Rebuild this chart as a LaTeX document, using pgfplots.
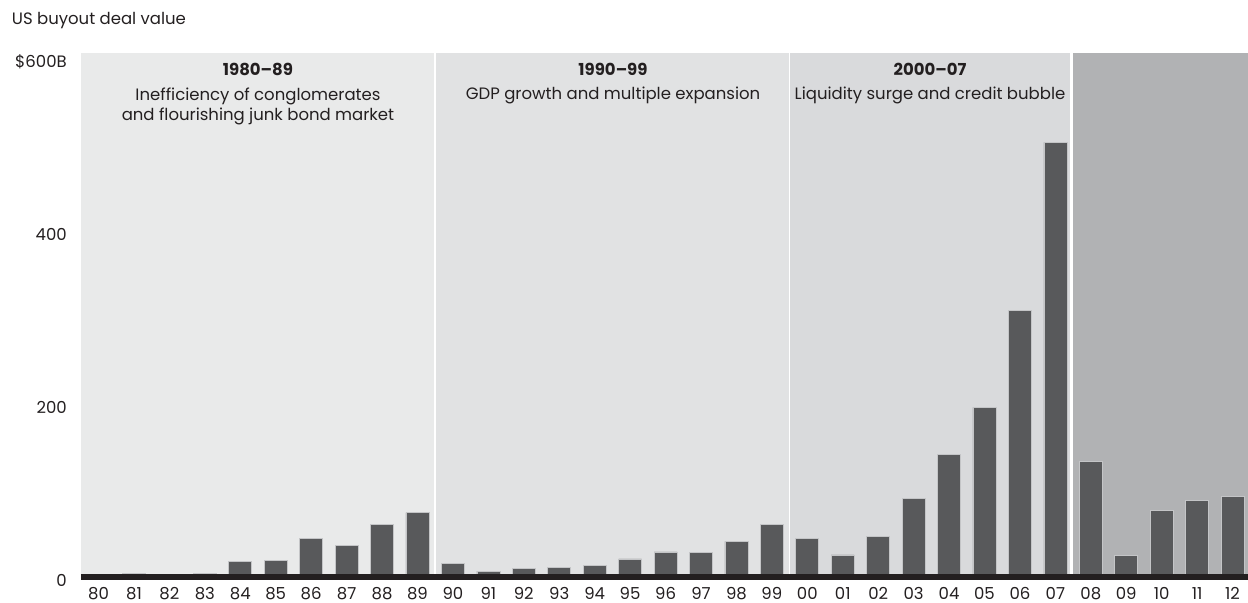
\documentclass[border=0pt]{standalone}
\usepackage{pgfplots}
\pgfplotsset{compat=1.18}
\usepackage{fontspec}
\setmainfont{Poppins}
\definecolor{rA}{HTML}{E9EAEA}
\definecolor{rB}{HTML}{E1E2E3}
\definecolor{rC}{HTML}{D9DADC}
\definecolor{rD}{HTML}{B1B2B4}
\definecolor{barc}{HTML}{58595B}
\definecolor{edgec}{HTML}{C4C5C7}
\definecolor{basec}{HTML}{231F20}
\definecolor{txt}{HTML}{231F20}
\begin{document}
\fontsize{16.5bp}{20bp}\selectfont
\begin{tikzpicture}[x=1bp,y=1bp]
\path[use as bounding box] (0,0) rectangle (1248,603);
\begin{axis}[
  at={(80.8bp,26bp)}, anchor=south west,
  scale only axis, width=1167bp, height=524bp,
  xmin=-0.5, xmax=32.43, ymin=0, ymax=605.1,
  clip=false,
  axis line style={draw=none},
  major tick length=0pt, tick style={draw=none},
  /pgf/number format/assume math mode=true,
  xtick={0,...,32},
  xticklabels={80,81,82,83,84,85,86,87,88,89,90,91,92,93,94,95,96,97,98,99,00,01,02,03,04,05,06,07,08,09,10,11,12},
  ytick={0,200,400,600},
  yticklabels={0,200,400,\$600B},
  xticklabel style={anchor=base, inner sep=0pt, yshift=-22.5bp, text=txt},
  yticklabel style={anchor=base east, inner sep=0pt, xshift=-13.8bp, yshift=-10bp, text=txt},
]
\fill[rA] (axis cs:-0.5,0) rectangle (axis cs:9.5,605.1);
\fill[rB] (axis cs:9.5,0) rectangle (axis cs:19.5,605.1);
\fill[rC] (axis cs:19.5,0) rectangle (axis cs:27.45,605.1);
\fill[rD] (axis cs:27.45,0) rectangle (axis cs:32.43,605.1);
\draw[white, line width=1.8bp] (axis cs:9.5,0) -- (axis cs:9.5,605.1);
\draw[white, line width=1.8bp] (axis cs:19.5,0) -- (axis cs:19.5,605.1);
\draw[white, line width=3bp] (axis cs:27.45,0) -- (axis cs:27.45,605.1);
\addplot[ybar, bar width=23bp, fill=barc, draw=edgec, line width=0.7bp] table[x=x,y=y] {
x y
0 1
1 4
2 2
3 4
4 18
5 19.6
6 45
7 36.6
8 60.8
9 74.3
10 15.4
11 6.9
12 9.6
13 11.2
14 13.5
15 20.8
16 28.9
17 28.5
18 41.2
19 60.8
20 44.2
21 25.4
22 47
23 90.4
24 141.7
25 196
26 307.5
27 502
28 133.6
29 25
30 77
31 88.9
32 93.2
};
\draw[basec, line width=6bp] (axis cs:-0.5,0) -- (axis cs:32.43,0);
\end{axis}
\node[anchor=base west, inner sep=0pt, text=txt] at (11.7,578) {US buyout deal value};
\node[anchor=base, inner sep=0pt, text=txt, font=\bfseries] at (258,527) {1980--89};
\node[anchor=base, inner sep=0pt, text=txt] at (258,502) {Inefficiency of conglomerates};
\node[anchor=base, inner sep=0pt, text=txt] at (258,482) {and flourishing junk bond market};
\node[anchor=base, inner sep=0pt, text=txt, font=\bfseries] at (613,527) {1990--99};
\node[anchor=base, inner sep=0pt, text=txt] at (613,503) {GDP growth and multiple expansion};
\node[anchor=base, inner sep=0pt, text=txt, font=\bfseries] at (930,527) {2000--07};
\node[anchor=base, inner sep=0pt, text=txt] at (930,503) {Liquidity surge and credit bubble};
\end{tikzpicture}
\end{document}
